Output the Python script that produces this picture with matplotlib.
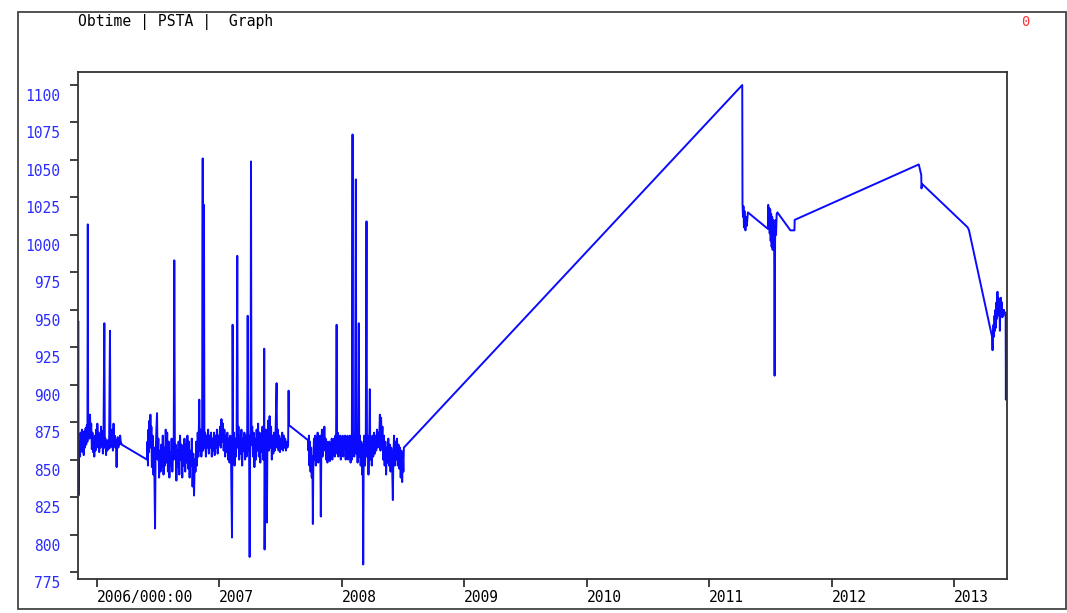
import matplotlib
matplotlib.use("Agg")
import matplotlib.pyplot as plt
from matplotlib.patches import Rectangle
from matplotlib.transforms import ScaledTranslation

# PSTA observations: (decimal year, value)
seg1_t = [2005.850, 2005.851, 2005.853, 2005.858, 2005.864, 2005.869, 2005.874, 2005.879, 2005.884, 2005.889,
          2005.894, 2005.899, 2005.904, 2005.909, 2005.914, 2005.919, 2005.924, 2005.927, 2005.930, 2005.935,
          2005.940, 2005.945, 2005.950, 2005.955, 2005.960, 2005.965, 2005.970, 2005.975, 2005.980, 2005.985,
          2005.990, 2005.995, 2006.000, 2006.005, 2006.010, 2006.015, 2006.020, 2006.025, 2006.030, 2006.035,
          2006.040, 2006.045, 2006.050, 2006.055, 2006.062, 2006.066, 2006.071, 2006.076, 2006.081, 2006.086,
          2006.091, 2006.096, 2006.101, 2006.108, 2006.112, 2006.117, 2006.122, 2006.127, 2006.132, 2006.137,
          2006.142, 2006.147, 2006.152, 2006.157, 2006.162, 2006.166, 2006.171, 2006.176, 2006.181, 2006.186,
          2006.191, 2006.196, 2006.204]
seg1_v = [942, 826, 848, 862, 852, 868, 857, 870, 855, 866,
          853, 869, 858, 871, 860, 873, 862, 1007, 868, 878,
          864, 880, 866, 874, 857, 868, 855, 864, 852, 866,
          856, 870, 858, 874, 861, 868, 855, 866, 858, 872,
          860, 869, 854, 864, 941, 858, 864, 853, 862, 856,
          863, 857, 862, 936, 858, 864, 861, 870, 856, 874,
          860, 866, 858, 863, 845, 862, 865, 858, 864, 860,
          866, 862, 860]

seg2_t = [2006.410, 2006.414, 2006.418, 2006.422, 2006.426, 2006.430, 2006.434, 2006.438, 2006.442, 2006.446,
          2006.450, 2006.456, 2006.462, 2006.468, 2006.476, 2006.480, 2006.486, 2006.492, 2006.497, 2006.503,
          2006.509, 2006.515, 2006.521, 2006.527, 2006.533, 2006.539, 2006.545, 2006.551, 2006.557, 2006.563,
          2006.569, 2006.575, 2006.581, 2006.587, 2006.593, 2006.599, 2006.605, 2006.611, 2006.617, 2006.623,
          2006.628, 2006.633, 2006.638, 2006.644, 2006.650, 2006.656, 2006.662, 2006.668, 2006.674, 2006.680,
          2006.686, 2006.692, 2006.698, 2006.704, 2006.710, 2006.716, 2006.722, 2006.728, 2006.734, 2006.740,
          2006.746, 2006.752, 2006.758, 2006.764, 2006.770, 2006.776, 2006.782, 2006.788, 2006.794, 2006.800,
          2006.806, 2006.812, 2006.818, 2006.824, 2006.830, 2006.837, 2006.842, 2006.848, 2006.854, 2006.860,
          2006.865, 2006.868, 2006.872, 2006.875, 2006.879, 2006.885, 2006.891, 2006.897, 2006.903, 2006.909,
          2006.915, 2006.921, 2006.927, 2006.933, 2006.939, 2006.945, 2006.951, 2006.957, 2006.963, 2006.969,
          2006.975, 2006.981, 2006.987, 2006.993, 2007.000, 2007.006, 2007.012, 2007.018, 2007.024, 2007.030,
          2007.036, 2007.042, 2007.048, 2007.054, 2007.060, 2007.066, 2007.072, 2007.078, 2007.084, 2007.090,
          2007.096, 2007.104, 2007.107, 2007.109, 2007.113, 2007.119, 2007.125, 2007.131, 2007.137, 2007.142,
          2007.147, 2007.151, 2007.157, 2007.163, 2007.169, 2007.175, 2007.181, 2007.187, 2007.193, 2007.199,
          2007.205, 2007.211, 2007.217, 2007.223, 2007.228, 2007.232, 2007.237, 2007.243, 2007.248, 2007.252,
          2007.256, 2007.259, 2007.263, 2007.269, 2007.275, 2007.281, 2007.287, 2007.293, 2007.299, 2007.305,
          2007.311, 2007.317, 2007.323, 2007.329, 2007.335, 2007.341, 2007.347, 2007.353, 2007.359, 2007.365,
          2007.367, 2007.370, 2007.374, 2007.380, 2007.386, 2007.389, 2007.393, 2007.399, 2007.405, 2007.411,
          2007.417, 2007.423, 2007.429, 2007.435, 2007.441, 2007.447, 2007.453, 2007.459, 2007.468, 2007.472,
          2007.478, 2007.484, 2007.490, 2007.496, 2007.502, 2007.508, 2007.514, 2007.520, 2007.526, 2007.532,
          2007.538, 2007.544, 2007.550, 2007.556, 2007.562, 2007.566, 2007.569]
seg2_v = [850, 862, 846, 870, 855, 876, 860, 880, 858, 872,
          845, 866, 840, 858, 804, 852, 868, 881, 850, 864,
          838, 856, 842, 860, 845, 866, 840, 858, 846, 870,
          848, 868, 842, 862, 838, 855, 846, 864, 842, 858,
          850, 983, 852, 860, 836, 856, 845, 862, 840, 866,
          850, 860, 838, 858, 846, 864, 842, 860, 848, 866,
          844, 862, 838, 856, 846, 864, 832, 854, 826, 850,
          842, 862, 846, 868, 852, 890, 856, 870, 852, 868,
          1051, 856, 866, 1020, 858, 868, 852, 866, 858, 870,
          854, 866, 858, 868, 852, 864, 856, 868, 853, 866,
          858, 870, 854, 866, 860, 872, 858, 877, 862, 874,
          856, 870, 852, 866, 855, 868, 850, 864, 848, 866,
          852, 798, 858, 940, 856, 868, 846, 864, 852, 870,
          986, 858, 872, 850, 866, 854, 870, 846, 864, 856,
          868, 850, 866, 852, 868, 946, 856, 866, 785, 858,
          870, 1049, 860, 872, 852, 868, 845, 864, 850, 870,
          856, 874, 852, 868, 848, 866, 855, 872, 850, 866,
          924, 790, 856, 870, 852, 808, 862, 876, 856, 879,
          858, 872, 850, 866, 854, 868, 856, 866, 901, 858,
          870, 856, 866, 855, 864, 857, 868, 856, 866, 858,
          864, 856, 862, 858, 860, 896, 873]

seg3_t = [2007.724, 2007.728, 2007.732, 2007.736, 2007.740, 2007.745, 2007.750, 2007.755, 2007.760, 2007.764,
          2007.768, 2007.773, 2007.778, 2007.783, 2007.788, 2007.793, 2007.798, 2007.803, 2007.808, 2007.813,
          2007.818, 2007.824, 2007.829, 2007.833, 2007.838, 2007.843, 2007.848, 2007.853, 2007.858, 2007.863,
          2007.868, 2007.873, 2007.878, 2007.883, 2007.888, 2007.893, 2007.898, 2007.903, 2007.908, 2007.913,
          2007.918, 2007.923, 2007.928, 2007.933, 2007.938, 2007.943, 2007.948, 2007.953, 2007.958, 2007.962,
          2007.967, 2007.972, 2007.977, 2007.982, 2007.987, 2007.992, 2007.997, 2008.002, 2008.007, 2008.012,
          2008.017, 2008.022, 2008.027, 2008.032, 2008.037, 2008.042, 2008.047, 2008.052, 2008.057, 2008.062,
          2008.067, 2008.072, 2008.077, 2008.082, 2008.088, 2008.092, 2008.097, 2008.102, 2008.108, 2008.115,
          2008.119, 2008.124, 2008.129, 2008.134, 2008.139, 2008.143, 2008.148, 2008.154, 2008.160, 2008.166,
          2008.171, 2008.175, 2008.179, 2008.184, 2008.190, 2008.196, 2008.202, 2008.206, 2008.212, 2008.218,
          2008.224, 2008.229, 2008.233, 2008.239, 2008.245, 2008.251, 2008.257, 2008.263, 2008.269, 2008.275,
          2008.281, 2008.287, 2008.293, 2008.299, 2008.305, 2008.311, 2008.316, 2008.321, 2008.326, 2008.332,
          2008.338, 2008.344, 2008.350, 2008.356, 2008.362, 2008.368, 2008.374, 2008.380, 2008.386, 2008.392,
          2008.398, 2008.404, 2008.410, 2008.417, 2008.421, 2008.427, 2008.433, 2008.439, 2008.445, 2008.451,
          2008.457, 2008.463, 2008.469, 2008.475, 2008.481, 2008.487, 2008.493, 2008.499, 2008.503, 2008.507]
seg3_v = [863, 856, 866, 846, 862, 842, 858, 838, 852, 807,
          848, 864, 850, 866, 846, 862, 852, 868, 848, 864,
          854, 866, 812, 856, 870, 852, 866, 858, 872, 856,
          864, 850, 862, 848, 860, 852, 862, 849, 860, 852,
          864, 850, 862, 854, 864, 852, 866, 854, 940, 856,
          868, 852, 864, 856, 866, 850, 862, 856, 866, 852,
          864, 858, 866, 850, 862, 856, 866, 850, 862, 854,
          866, 848, 862, 850, 1067, 856, 866, 852, 864, 1037,
          854, 868, 848, 862, 941, 852, 866, 846, 862, 840,
          860, 780, 855, 866, 846, 864, 1009, 852, 866, 840,
          860, 897, 850, 864, 846, 866, 852, 868, 854, 866,
          856, 870, 858, 868, 862, 880, 856, 878, 860, 872,
          850, 866, 846, 862, 840, 858, 848, 864, 846, 860,
          842, 858, 850, 823, 852, 866, 846, 862, 850, 864,
          846, 860, 844, 858, 838, 856, 835, 852, 842, 858]

seg4_t = [2011.269, 2011.271, 2011.275, 2011.279, 2011.283, 2011.287, 2011.291, 2011.295, 2011.300, 2011.306,
          2011.315, 2011.478, 2011.481, 2011.485, 2011.489, 2011.493, 2011.497, 2011.501, 2011.505, 2011.509,
          2011.513, 2011.517, 2011.521, 2011.525, 2011.529, 2011.533, 2011.537, 2011.541, 2011.545, 2011.550,
          2011.556, 2011.662, 2011.695, 2011.697, 2012.710, 2012.730, 2012.732, 2012.737, 2013.109, 2013.120,
          2013.308, 2013.312, 2013.316, 2013.320, 2013.324, 2013.328, 2013.332, 2013.336, 2013.340, 2013.344,
          2013.348, 2013.352, 2013.356, 2013.360, 2013.364, 2013.368, 2013.372, 2013.376, 2013.380, 2013.384,
          2013.388, 2013.392, 2013.396, 2013.400, 2013.404, 2013.410, 2013.419, 2013.421, 2013.423, 2013.440]
seg4_v = [1100, 1021, 1012, 1019, 1005, 1016, 1008, 1003, 1012, 1006,
          1015, 1004, 1020, 1008, 1018, 1001, 1017, 996, 1014, 992,
          1012, 990, 1010, 994, 1006, 906, 996, 1010, 1000, 1014,
          1015, 1003, 1003, 1010, 1047, 1040, 1031, 1034, 1005, 1003,
          932, 923, 934, 940, 932, 946, 936, 950, 938, 955,
          944, 962, 946, 958, 948, 955, 936, 952, 958, 948,
          955, 945, 950, 946, 950, 948, 948, 890, 946, 946]

years = seg1_t + seg2_t + seg3_t + seg4_t
psta = seg1_v + seg2_v + seg3_v + seg4_v

ytick_vals = [775, 800, 825, 850, 875, 900, 925, 950, 975, 1000, 1025, 1050, 1075, 1100]
xtick_vals = [2006, 2007, 2008, 2009, 2010, 2011, 2012, 2013]
xtick_labels = ["2006/000:00", "2007", "2008", "2009", "2010", "2011", "2012", "2013"]

W, H = 1067, 613
fig = plt.figure(figsize=(W / 100, H / 100), dpi=100)
mono = "DejaVu Sans Mono"

# outer frame
fig.patches.append(Rectangle((18 / W, 1 - 609 / H), 1048 / W, 597 / H, transform=fig.transFigure,
                             fill=False, edgecolor="#444444", linewidth=1.3))
fig.text(78 / W, 1 - 22 / H, "Obtime | PSTA |  Graph", family=mono, fontsize=10.6, va="center", ha="left")
fig.text(1025 / W, 1 - 22 / H, "0", family=mono, fontsize=10, va="center", ha="center", color="#ff3333")

ax = fig.add_axes([78 / W, 1 - 579 / H, 929 / W, 507 / H])
ax.plot(years, psta, color="#0a0aff", linewidth=1.4)
ax.set_xlim(2005.847, 2013.43)
ax.set_ylim(770.3, 1108.7)

for s in ax.spines.values():
    s.set_color("#333333")
    s.set_linewidth(1.3)

ax.set_yticks(ytick_vals)
ax.set_yticklabels([str(v) for v in ytick_vals], family=mono, fontsize=10.5, color="#2b2bff")
ax.set_xticks(xtick_vals)
ax.set_xticklabels(xtick_labels, family=mono, fontsize=10.5, ha="left")
ax.tick_params(axis="both", direction="out", length=6, width=1.3, color="#333333")
ax.tick_params(axis="y", pad=7)
ax.tick_params(axis="x", pad=2)

# value labels sit a little below their tick marks
shift = ScaledTranslation(0, -0.1, fig.dpi_scale_trans)
for lab in ax.get_yticklabels():
    lab.set_transform(lab.get_transform() + shift)

fig.savefig("out.png", dpi=100)
